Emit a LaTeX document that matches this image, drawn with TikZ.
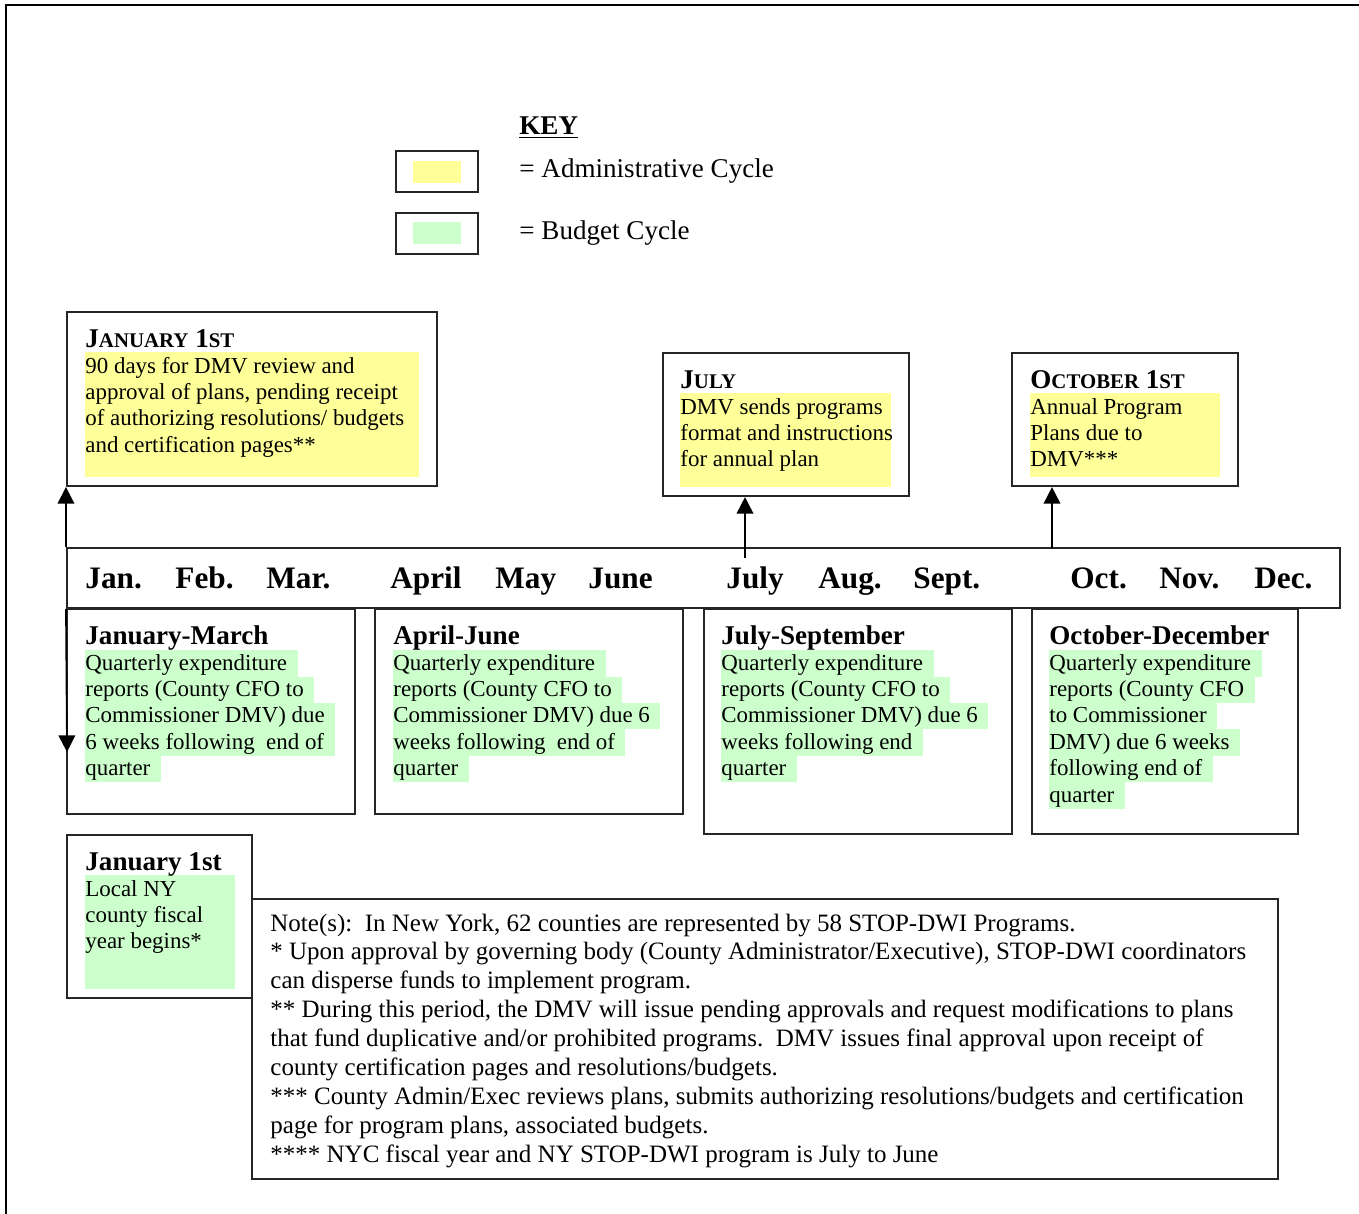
\documentclass[tikz,border=0pt]{standalone}
\usepackage{fontspec}
\setmainfont{Liberation Serif}
\usetikzlibrary{arrows.meta,fit}
\definecolor{admin}{RGB}{255,255,153}
\definecolor{budget}{RGB}{204,255,204}
\newcommand{\smc}[2]{{\fontsize{13}{15}\selectfont #1}{\fontsize{10}{12}\selectfont #2}}
\tikzset{
  frame/.style={draw=black!85, line width=1pt, inner sep=0pt},
  hlblock/.style={fill=#1, inner sep=0pt},
  head/.style={font=\bfseries\fontsize{13}{15}\selectfont, inner sep=0pt, anchor=base west},
  txt/.style={font=\fontsize{11}{13}\selectfont, inner sep=0pt, anchor=base west, text height=9.5pt, text depth=3.2pt},
  hl/.style={txt, fill=budget},
  month/.style={font=\bfseries\fontsize{15}{18}\selectfont, inner sep=0pt, anchor=base west},
  notetxt/.style={font=\fontsize{12}{14}\selectfont, inner sep=0pt, anchor=base west},
  keytxt/.style={font=\fontsize{13}{15}\selectfont, inner sep=0pt, anchor=base west},
  arr/.style={-{Triangle[length=8pt,width=8pt]}, line width=0.8pt},
}
\begin{document}
\begin{tikzpicture}[x=0.48pt, y=-0.48pt]
  \useasboundingbox (0,0) rectangle (1359,1214);
  % page edge
  \draw[line width=1.2pt] (6,1214) -- (6,5) -- (1359,5);

  % key
  \node[keytxt, font=\bfseries\fontsize{13}{15}\selectfont] (keyt) at (519,134) {\underline{KEY}};
  \node[frame, fit={(396,151) (478,192)}] (keyadm) {};
  \node[hlblock=admin, fit={(413,161) (461,183)}] (keyadmfill) {};
  \node[keytxt] (keya) at (519,177) {= Administrative Cycle};
  \node[frame, fit={(396,213) (478,254)}] (keybud) {};
  \node[hlblock=budget, fit={(413,222) (461,244)}] (keybudfill) {};
  \node[keytxt] (keyb) at (519,239) {= Budget Cycle};

  % administrative cycle boxes
  \node[frame, fit={(67,312) (437,486)}] (jan1) {};
  \node[hlblock=admin, fit={(85,352) (419,477)}] (jan1hl) {};
  \node[head] (jan1t) at (85,347) {\smc{J}{ANUARY} \smc{1}{ST}};
  \foreach \t [count=\i from 0] in {{90 days for DMV review and},{approval of plans, pending receipt},{of authorizing resolutions/ budgets},{and certification pages**}}
    \node[txt] (jan1-\i) at (85,373+26.4*\i) {\t};

  \node[frame, fit={(663,353) (909,496)}] (july) {};
  \node[hlblock=admin, fit={(680,393) (891,487)}] (julyhl) {};
  \node[head] (julyt) at (680,388) {\smc{J}{ULY}};
  \foreach \t [count=\i from 0] in {{DMV sends programs},{format and instructions},{for annual plan}}
    \node[txt] (july-\i) at (680,414+26.4*\i) {\t};

  \node[frame, fit={(1012,353) (1238,486)}] (oct) {};
  \node[hlblock=admin, fit={(1030,393) (1220,477)}] (octhl) {};
  \node[head] (octt) at (1030,388) {\smc{O}{CTOBER} \smc{1}{ST}};
  \foreach \t [count=\i from 0] in {{Annual Program},{Plans due to},{DMV***}}
    \node[txt] (oct-\i) at (1030,414+26.4*\i) {\t};

  % months
  \node[frame, fit={(67,548) (1340,608)}] (bar) {};
  \foreach \m/\x in {Jan./85, Feb./175, Mar./266, April/390, May/495, June/588,
                     July/726, Aug./818, Sept./913, Oct./1070, Nov./1159, Dec./1254}
    \node[month] (m-\x) at (\x,588) {\m};

  % budget cycle boxes
  \node[frame, fit={(67,609) (355,814)}] (q1) {};
  \node[head] (q1t) at (85,644) {January-March};
  \foreach \t [count=\i from 0] in {{Quarterly expenditure},{reports (County CFO to},{Commissioner DMV) due},{6 weeks following\ \ end of},{quarter}}
    \node[hl] (q1-\i) at (85,670+26.4*\i) {\t\kern5pt};

  \node[frame, fit={(375,609) (683,814)}] (q2) {};
  \node[head] (q2t) at (393,644) {April-June};
  \foreach \t [count=\i from 0] in {{Quarterly expenditure},{reports (County CFO to},{Commissioner DMV) due 6},{weeks following\ \ end of},{quarter}}
    \node[hl] (q2-\i) at (393,670+26.4*\i) {\t\kern5pt};

  \node[frame, fit={(704,609) (1012,834)}] (q3) {};
  \node[head] (q3t) at (721,644) {July-September};
  \foreach \t [count=\i from 0] in {{Quarterly expenditure},{reports (County CFO to},{Commissioner DMV) due 6},{weeks following end},{quarter}}
    \node[hl] (q3-\i) at (721,670+26.4*\i) {\t\kern5pt};

  \node[frame, fit={(1032,609) (1298,834)}] (q4) {};
  \node[head] (q4t) at (1049,644) {October-December};
  \foreach \t [count=\i from 0] in {{Quarterly expenditure},{reports (County CFO},{to Commissioner},{DMV) due 6 weeks},{following end of},{quarter}}
    \node[hl] (q4-\i) at (1049,670+26.4*\i) {\t\kern5pt};

  \node[frame, fit={(67,835) (252,998)}] (fy) {};
  \node[hlblock=budget, fit={(85,875) (235,989)}] (fyhl) {};
  \node[head] (fyt) at (85,870) {January 1st};
  \foreach \t [count=\i from 0] in {{Local NY},{county fiscal},{year begins*}}
    \node[txt] (fy-\i) at (85,896+26.4*\i) {\t};

  % notes
  \node[frame, fit={(252,899) (1278,1179)}] (notes) {};
  \foreach \t [count=\i from 0] in {
      {Note(s):\ \ In New York, 62 counties are represented by 58 STOP-DWI Programs.},
      {* Upon approval by governing body (County Administrator/Executive), STOP-DWI coordinators},
      {can disperse funds to implement program.},
      {** During this period, the DMV will issue pending approvals and request modifications to plans},
      {that fund duplicative and/or prohibited programs.\ \ DMV issues final approval upon receipt of},
      {county certification pages and resolutions/budgets.},
      {*** County Admin/Exec reviews plans, submits authorizing resolutions/budgets and certification},
      {page for program plans, associated budgets.},
      {**** NYC fiscal year and NY STOP-DWI program is July to June}}
    \node[notetxt] (note-\i) at (270,931+28.9*\i) {\t};

  % arrows
  \draw[arr] (bar.north west) -- (jan1.south west);
  \coordinate (julyfoot) at (745,558);
  \draw[arr] (julyfoot) -- (julyfoot |- july.south);
  \coordinate (octfoot) at (1052,548);
  \draw[arr] (octfoot) -- (octfoot |- oct.south);
  \coordinate (q1tip) at (67,752);
  \draw[arr] (bar.south west) -- (q1tip);
\end{tikzpicture}
\end{document}
